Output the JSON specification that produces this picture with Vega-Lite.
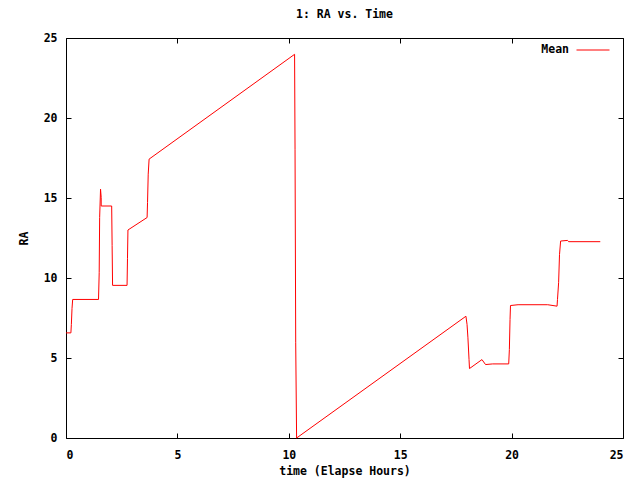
{
  "$schema": "https://vega.github.io/schema/vega-lite/v6.json",
  "width": 557,
  "height": 400,
  "autosize": {"type": "none"},
  "padding": {"left": 66, "top": 38, "right": 17, "bottom": 42},
  "background": "white",
  "title": {"text": "1: RA vs. Time", "font": "DejaVu Sans Mono", "fontSize": 11.5, "fontWeight": "bold", "color": "#000000", "offset": 12, "anchor": "middle"},
  "config": {
    "view": {"stroke": "#000000", "strokeWidth": 1},
    "axis": {
      "grid": false, "domain": false, "tickColor": "#000000", "tickSize": -5, "tickWidth": 1,
      "labelFont": "DejaVu Sans Mono", "labelFontSize": 11.5, "labelFontWeight": "bold", "labelColor": "#000000",
      "titleFont": "DejaVu Sans Mono", "titleFontSize": 11.5, "titleFontWeight": "bold", "titleColor": "#000000"
    },
    "legend": {
      "orient": "none", "legendX": 510, "legendY": -5, "padding": 0,
      "symbolType": "stroke", "symbolSize": 1089, "symbolStrokeWidth": 1, "symbolStrokeColor": "#ff0000",
      "labelAlign": "right", "labelOffset": -41,
      "labelFont": "DejaVu Sans Mono", "labelFontSize": 11.5, "labelFontWeight": "bold", "labelColor": "#000000"
    }
  },
  "data": {"values": [
    {"i": 0, "t": 0, "v": 6.57},
    {"i": 1, "t": 0.22, "v": 6.57},
    {"i": 2, "t": 0.24, "v": 7.09},
    {"i": 3, "t": 0.27, "v": 8.10},
    {"i": 4, "t": 0.30, "v": 8.66},
    {"i": 5, "t": 1.46, "v": 8.66},
    {"i": 6, "t": 1.49, "v": 10.33},
    {"i": 7, "t": 1.51, "v": 13.78},
    {"i": 8, "t": 1.55, "v": 15.55},
    {"i": 9, "t": 1.58, "v": 15.03},
    {"i": 10, "t": 1.58, "v": 14.50},
    {"i": 11, "t": 2.05, "v": 14.50},
    {"i": 12, "t": 2.07, "v": 12.04},
    {"i": 13, "t": 2.09, "v": 9.54},
    {"i": 14, "t": 2.74, "v": 9.54},
    {"i": 15, "t": 2.76, "v": 11.23},
    {"i": 16, "t": 2.78, "v": 13.0},
    {"i": 17, "t": 3.64, "v": 13.78},
    {"i": 18, "t": 3.66, "v": 14.72},
    {"i": 19, "t": 3.69, "v": 16.49},
    {"i": 20, "t": 3.73, "v": 17.43},
    {"i": 21, "t": 10.26, "v": 23.98},
    {"i": 22, "t": 10.28, "v": 18.05},
    {"i": 23, "t": 10.31, "v": 5.95},
    {"i": 24, "t": 10.35, "v": 0},
    {"i": 25, "t": 17.95, "v": 7.61},
    {"i": 26, "t": 18.0, "v": 7.10},
    {"i": 27, "t": 18.04, "v": 6.26},
    {"i": 28, "t": 18.09, "v": 4.90},
    {"i": 29, "t": 18.11, "v": 4.34},
    {"i": 30, "t": 18.67, "v": 4.90},
    {"i": 31, "t": 18.83, "v": 4.59},
    {"i": 32, "t": 19.15, "v": 4.63},
    {"i": 33, "t": 19.87, "v": 4.63},
    {"i": 34, "t": 19.90, "v": 5.53},
    {"i": 35, "t": 19.93, "v": 7.41},
    {"i": 36, "t": 19.95, "v": 8.28},
    {"i": 37, "t": 20.29, "v": 8.33},
    {"i": 38, "t": 21.62, "v": 8.33},
    {"i": 39, "t": 22.04, "v": 8.24},
    {"i": 40, "t": 22.06, "v": 8.66},
    {"i": 41, "t": 22.11, "v": 9.71},
    {"i": 42, "t": 22.15, "v": 11.46},
    {"i": 43, "t": 22.20, "v": 12.31},
    {"i": 44, "t": 22.51, "v": 12.35},
    {"i": 45, "t": 22.56, "v": 12.27},
    {"i": 46, "t": 23.98, "v": 12.27}
  ]},
  "layer": [
    {
      "mark": {"type": "line", "strokeWidth": 1, "interpolate": "linear"},
      "encoding": {
        "x": {"field": "t", "type": "quantitative", "scale": {"domain": [0, 25], "nice": false, "zero": false},
              "axis": {"orient": "bottom", "values": [0, 5, 10, 15, 20, 25], "labelPadding": 16, "title": "time (Elapse Hours)", "titlePadding": 5}},
        "y": {"field": "v", "type": "quantitative", "scale": {"domain": [0, 25], "nice": false, "zero": false},
              "axis": {"orient": "left", "values": [0, 5, 10, 15, 20, 25], "labelPadding": 14, "title": "RA", "titlePadding": 14}},
        "color": {"datum": "Mean", "scale": {"range": ["#ff0000"]}, "legend": {"title": null}},
        "order": {"field": "i"}
      }
    },
    {
      "mark": {"type": "line", "opacity": 0},
      "encoding": {
        "x": {"field": "t", "type": "quantitative", "scale": {"domain": [0, 25], "nice": false, "zero": false},
              "axis": {"orient": "top", "values": [0, 5, 10, 15, 20, 25], "labels": false, "title": null}},
        "y": {"field": "v", "type": "quantitative", "scale": {"domain": [0, 25], "nice": false, "zero": false},
              "axis": {"orient": "right", "values": [0, 5, 10, 15, 20, 25], "labels": false, "title": null}},
        "order": {"field": "i"}
      }
    }
  ],
  "resolve": {"scale": {"x": "independent", "y": "independent"}}
}
